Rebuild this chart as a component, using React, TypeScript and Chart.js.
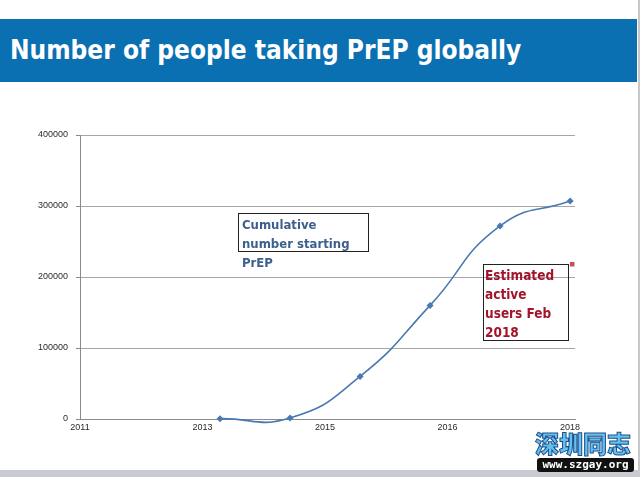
import React, { useEffect, useRef } from "react";
import { Chart, registerables } from "chart.js";

Chart.register(...registerables);

const years = [2013, 2014, 2015, 2016, 2017, 2018];
const cumulativeStarting = [500, 1500, 60000, 160000, 272000, 307000];
const activeYear = [2018.03];
const activeUsers = [218000];
const xTickValues = [2011, 2012.75, 2014.5, 2016.25, 2018];
const yTickValues = [0, 100000, 200000, 300000, 400000];

const titleText = "Number of people taking PrEP globally";
const blueNote = ["Cumulative", "number starting", "PrEP"];
const redNote = ["Estimated", "active", "users Feb", "2018"];

export default function App() {
  const ref = useRef<HTMLCanvasElement | null>(null);

  useEffect(() => {
    if (!ref.current) return;
    const chart = new Chart(ref.current, {
      type: "line",
      data: {
        datasets: [
          {
            label: "Cumulative number starting PrEP",
            data: years.map((y, i) => ({ x: y, y: cumulativeStarting[i] })),
            borderColor: "#4a78b0",
            backgroundColor: "#4a78b0",
            borderWidth: 1.6,
            tension: 0.5,
            pointStyle: "rectRot",
            pointRadius: 3.5,
            pointBorderWidth: 0,
            clip: false as any,
          },
          {
            label: "Estimated active users Feb 2018",
            data: activeYear.map((y, i) => ({ x: y, y: activeUsers[i] })),
            showLine: false,
            borderColor: "#c0505a",
            backgroundColor: "#c0505a",
            pointStyle: "rect",
            pointRadius: 3.2,
            pointBorderWidth: 0,
            clip: false as any,
          },
        ],
      },
      options: {
        responsive: false,
        animation: false,
        elements: { line: { capBezierPoints: false } },
        layout: { padding: { left: 0, top: 135, right: 65, bottom: 38 } },
        plugins: { legend: { display: false }, tooltip: { enabled: false } },
        scales: {
          x: {
            type: "linear",
            min: 2011,
            max: 2018.07,
            afterBuildTicks: (s: any) => {
              s.ticks = xTickValues.map((v) => ({ value: v }));
            },
            afterFit: (s: any) => {
              s.height = 20;
            },
            ticks: {
              callback: (v: any) => String(Math.round(Number(v))),
              font: { family: "Liberation Sans", size: 9 },
              color: "#2a2a2a",
              padding: 3,
              maxRotation: 0,
              autoSkip: false,
            },
            grid: { display: false, drawTicks: false },
            border: { display: true, color: "#8a8a8a", width: 1 },
          },
          y: {
            min: 0,
            max: 400000,
            afterBuildTicks: (s: any) => {
              s.ticks = yTickValues.map((v) => ({ value: v }));
            },
            afterFit: (s: any) => {
              s.width = 80;
            },
            ticks: {
              callback: (v: any) => String(v),
              font: { family: "Liberation Sans", size: 9 },
              color: "#2a2a2a",
              padding: 8,
            },
            grid: { color: "#a6a6a6", lineWidth: 1, tickLength: 4, drawTicks: true, tickColor: "#8a8a8a" },
            border: { display: true, color: "#8a8a8a", width: 1 },
          },
        },
      },
    });
    return () => chart.destroy();
  }, []);

  const noteFont = "'DejaVu Sans Condensed', 'DejaVu Sans', sans-serif";

  return (
    <div style={{ position: "fixed", left: 0, top: 0, width: 640, height: 477, background: "#fff", overflow: "hidden" }}>
      <canvas ref={ref} width={640} height={477} style={{ position: "absolute", left: 0, top: 0, width: 640, height: 477 }} />
      <div
        style={{
          position: "absolute",
          left: 0,
          top: 19,
          width: 637,
          height: 63,
          background: "#0b70b2",
          color: "#fff",
          fontFamily: noteFont,
          fontWeight: "bold",
          fontSize: 26,
          lineHeight: "62px",
          paddingLeft: 10,
          boxSizing: "border-box",
          whiteSpace: "nowrap",
        }}
      >
        {titleText}
      </div>
      <div style={{ position: "absolute", left: 638, top: 0, width: 2, height: 477, background: "#c8c8c8" }} />
      <div style={{ position: "absolute", left: 0, top: 470, width: 640, height: 7, background: "#c8ccd2" }} />

      <div style={{ position: "absolute", left: 238, top: 213, width: 131, height: 39, border: "1px solid #222", boxSizing: "border-box" }} />
      <div
        style={{
          position: "absolute",
          left: 242,
          top: 215,
          fontFamily: noteFont,
          fontWeight: "bold",
          fontSize: 13,
          lineHeight: "19px",
          color: "#3d5f8c",
          whiteSpace: "nowrap",
        }}
      >
        {blueNote.map((t, i) => (
          <div key={i}>{t}</div>
        ))}
      </div>

      <div style={{ position: "absolute", left: 483, top: 264, width: 86, height: 77, border: "1px solid #222", boxSizing: "border-box" }} />
      <div
        style={{
          position: "absolute",
          left: 485,
          top: 266,
          fontFamily: noteFont,
          fontWeight: "bold",
          fontSize: 13.5,
          lineHeight: "19px",
          color: "#a3142c",
          whiteSpace: "nowrap",
        }}
      >
        {redNote.map((t, i) => (
          <div key={i}>{t}</div>
        ))}
      </div>

      <div
        style={{
          position: "absolute",
          left: 532,
          top: 427,
          width: 102,
          textAlign: "center",
          fontFamily: "'Noto Sans CJK SC', sans-serif",
          fontWeight: 900,
          fontSize: 24,
          lineHeight: "32px",
          color: "#63c0ef",
          WebkitTextStroke: "1px #1d4f8a",
          letterSpacing: 0,
        }}
      >
        深圳同志
      </div>
      <div
        style={{
          position: "absolute",
          left: 537,
          top: 458,
          width: 97,
          height: 14,
          background: "#111",
          borderRadius: 3,
          color: "#fff",
          fontFamily: "'DejaVu Sans Mono', monospace",
          fontWeight: "bold",
          fontSize: 11,
          lineHeight: "14px",
          textAlign: "center",
        }}
      >
        www.szgay.org
      </div>
    </div>
  );
}
